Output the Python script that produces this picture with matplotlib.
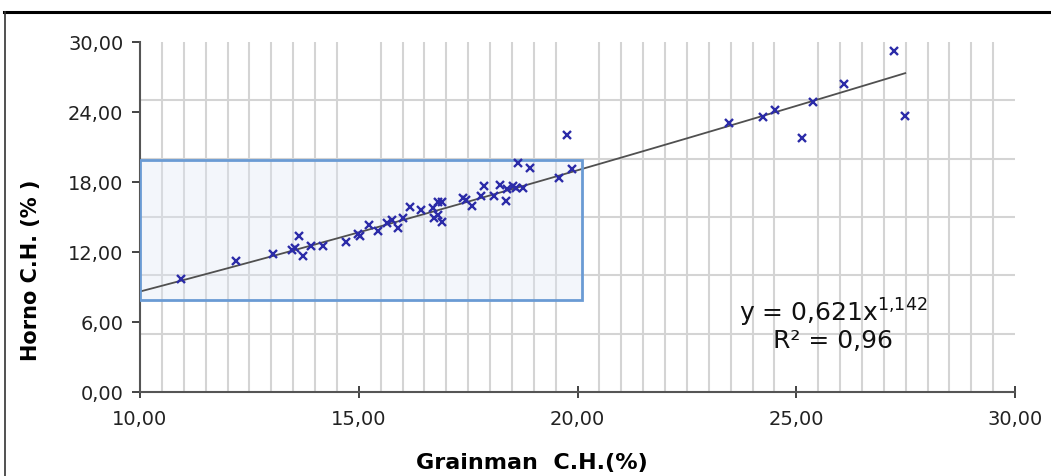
import numpy as np
import matplotlib
matplotlib.use("Agg")
import matplotlib.pyplot as plt
from matplotlib.ticker import FuncFormatter, MultipleLocator
from matplotlib.patches import Rectangle
from matplotlib.lines import Line2D

plt.rcParams['font.family'] = ['DejaVu Sans']

# Grainman C.H. (%) vs Horno C.H. (%)
grainman = [10.94, 12.19, 13.05, 13.47, 13.54, 13.64, 13.73, 13.90, 14.19, 14.71,
            14.99, 15.03, 15.23, 15.43, 15.64, 15.75, 15.89, 16.00, 16.16, 16.42,
            16.69, 16.72, 16.80, 16.90, 16.82, 16.91, 17.39, 17.45, 17.58, 17.79,
            17.87, 18.10, 18.23, 18.36, 18.38, 18.53, 18.59, 18.76, 18.65, 18.91,
            19.58, 19.87, 19.77, 23.47, 24.25, 24.51, 25.14, 25.39, 26.08, 27.23,
            27.49]
horno = [9.72, 11.23, 11.83, 12.20, 12.34, 13.40, 11.69, 12.54, 12.48, 12.88,
         13.54, 13.34, 14.34, 13.77, 14.45, 14.77, 14.05, 14.91, 15.83, 15.60,
         15.74, 14.91, 16.25, 16.30, 15.17, 14.60, 16.60, 16.48, 15.97, 16.83,
         17.63, 16.83, 17.77, 16.34, 17.40, 17.63, 17.46, 17.46, 19.63, 19.20,
         18.34, 19.11, 22.02, 23.06, 23.54, 24.20, 21.74, 24.88, 26.40, 29.25,
         23.63]

# power trendline y = a * x^b
fit_a = 0.621
fit_b = 1.142
r2 = 0.96

fig = plt.figure(figsize=(10.51, 4.77), dpi=100)
ax = fig.add_axes([140/1051, 1-393/477, 875/1051, 350/477])

ax.set_xlim(10, 30)
ax.set_ylim(0, 30)

# highlight box
ax.add_patch(Rectangle((10, 7.85), 10.1, 12.05, facecolor='#dfe8f6', alpha=0.35,
                       edgecolor='none', zorder=1))
ax.add_patch(Rectangle((10, 7.85), 10.1, 12.05, facecolor='none',
                       edgecolor='#6a9bd4', linewidth=2, zorder=4))

xs = np.linspace(10, max(grainman), 100)
ax.plot(xs, fit_a * xs ** fit_b, color='#505050', linewidth=1.3, zorder=3)
ax.plot(grainman, horno, linestyle='none', marker='x', markersize=5.5,
        markeredgewidth=1.7, color='#2b2ba8', zorder=5)

ax.xaxis.set_major_locator(MultipleLocator(5))
ax.xaxis.set_minor_locator(MultipleLocator(0.5))
ax.yaxis.set_major_locator(MultipleLocator(6))
ax.yaxis.set_minor_locator(MultipleLocator(5))
ax.grid(True, which='minor', color='#d4d4d4', linewidth=1.5, zorder=0)
ax.grid(False, which='major')
ax.set_axisbelow(True)

fmt = FuncFormatter(lambda v, p: f"{v:.2f}".replace('.', ','))
ax.xaxis.set_major_formatter(fmt)
ax.yaxis.set_major_formatter(fmt)
ax.tick_params(which='minor', length=0)
ax.tick_params(axis='x', which='major', direction='inout', length=8, width=1.2,
               labelsize=14, pad=8, colors='#222222')
ax.tick_params(axis='y', which='major', direction='out', length=6, width=1.2,
               labelsize=14, pad=6, colors='#222222')

for s in ['top', 'right']:
    ax.spines[s].set_visible(False)
for s in ['left', 'bottom']:
    ax.spines[s].set_color('#555555')
    ax.spines[s].set_linewidth(1.5)

ax.set_xlabel('Grainman  C.H.(%)', fontsize=16, fontweight='bold', labelpad=8)
ax.xaxis.set_label_coords(0.448, -0.17)
ax.set_ylabel('Horno C.H. (% )', fontsize=15, fontweight='bold')
ax.yaxis.set_label_coords(-0.113, 0.35)

ax.text(25.85, 6.85, 'y = 0,621x$^{1{,}142}$', fontsize=18, ha='center', va='center',
        color='#111111', zorder=6)
ax.text(25.85, 4.45, 'R² = 0,96', fontsize=18, ha='center', va='center',
        color='#111111', zorder=6)

# outer frame lines
fig.add_artist(Line2D([4/1051, 1], [1-12.5/477, 1-12.5/477], color='black',
                      linewidth=2.2, transform=fig.transFigure))
fig.add_artist(Line2D([5/1051, 5/1051], [0, 1-12.5/477], color='#333333',
                      linewidth=1.2, transform=fig.transFigure))

fig.savefig('out.png', dpi=100, facecolor='white')
